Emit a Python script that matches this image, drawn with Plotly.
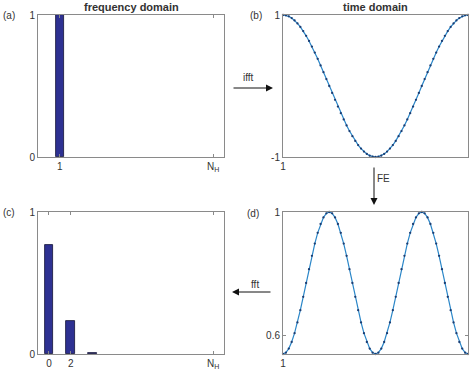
import plotly.graph_objects as go

W, H = 474, 375

# ---------------- data ----------------
freq_idx = list(range(0, 16))
a_vals = [None, 1, None, None, None, None, None, None, None, None, None, None, None, None, None, None]
c_vals = [0.768, None, 0.232, None, 0.004, None, None, None, None, None, None, None, None, None, None, None]

time_idx = list(range(1, 66))
b_vals = [1.0, 0.9952, 0.9808, 0.9569, 0.9239, 0.8819, 0.8315, 0.7730, 0.7071,
          0.6344, 0.5556, 0.4714, 0.3827, 0.2903, 0.1951, 0.0980, 0.0,
          -0.0980, -0.1951, -0.2903, -0.3827, -0.4714, -0.5556, -0.6344, -0.7071,
          -0.7730, -0.8315, -0.8819, -0.9239, -0.9569, -0.9808, -0.9952, -1.0,
          -0.9952, -0.9808, -0.9569, -0.9239, -0.8819, -0.8315, -0.7730, -0.7071,
          -0.6344, -0.5556, -0.4714, -0.3827, -0.2903, -0.1951, -0.0980, 0.0,
          0.0980, 0.1951, 0.2903, 0.3827, 0.4714, 0.5556, 0.6344, 0.7071,
          0.7730, 0.8315, 0.8819, 0.9239, 0.9569, 0.9808, 0.9952, 1.0]
d_vals = [0.540, 0.5444, 0.5575, 0.5788, 0.6074, 0.6422, 0.6820, 0.7251, 0.7700,
          0.8149, 0.8580, 0.8978, 0.9326, 0.9612, 0.9825, 0.9956, 1.0,
          0.9956, 0.9825, 0.9612, 0.9326, 0.8978, 0.8580, 0.8149, 0.7700,
          0.7251, 0.6820, 0.6422, 0.6074, 0.5788, 0.5575, 0.5444, 0.540,
          0.5444, 0.5575, 0.5788, 0.6074, 0.6422, 0.6820, 0.7251, 0.7700,
          0.8149, 0.8580, 0.8978, 0.9326, 0.9612, 0.9825, 0.9956, 1.0,
          0.9956, 0.9825, 0.9612, 0.9326, 0.8978, 0.8580, 0.8149, 0.7700,
          0.7251, 0.6820, 0.6422, 0.6074, 0.5788, 0.5575, 0.5444, 0.540]

a_ticks = [1, 15]
a_ticktext = ["1", "N<sub>H</sub>"]
c_ticks = [0, 2, 15]
c_ticktext = ["0", "2", "N<sub>H</sub>"]
t_ticks = [1, 65]
t_ticktext = ["1", "N<sub>T</sub>"]

# ---------------- helpers ----------------
def px(x):
    return x / W

def py(y):
    return (H - y) / H

FONT = "Liberation Sans, Arial, Helvetica, sans-serif"
AX_COL = "#8a8a8a"
TXT_COL = "#333333"
BAR_COL = "#2e3192"
LINE_COL = "#2a86c8"
DOT_COL = "#1c3d72"

def axis(domain, rng, tickvals, ticktext):
    return dict(domain=domain, range=rng, tickvals=tickvals, ticktext=ticktext,
                showline=True, linecolor=AX_COL, linewidth=1, mirror="ticks",
                ticks="inside", ticklen=3, tickcolor=AX_COL, showgrid=False,
                zeroline=False, tickfont=dict(family=FONT, size=10, color=TXT_COL),
                fixedrange=True, automargin=False)

xl = [px(38), px(224)]
xr = [px(283), px(468)]
yt = [py(157), py(15)]
yb = [py(354), py(212)]

fig = go.Figure()

fig.add_trace(go.Bar(x=freq_idx, y=a_vals, width=0.8, marker=dict(color=BAR_COL, line=dict(color="#111133", width=0.8)),
                     xaxis="x", yaxis="y", showlegend=False))
fig.add_trace(go.Scatter(x=time_idx, y=b_vals, mode="lines+markers",
                         line=dict(color=LINE_COL, width=1.2),
                         marker=dict(color=DOT_COL, size=2.3),
                         xaxis="x2", yaxis="y2", showlegend=False, cliponaxis=False))
fig.add_trace(go.Bar(x=freq_idx, y=c_vals, width=0.8, marker=dict(color=BAR_COL, line=dict(color="#111133", width=0.8)),
                     xaxis="x3", yaxis="y3", showlegend=False))
fig.add_trace(go.Scatter(x=time_idx, y=d_vals, mode="lines+markers",
                         line=dict(color=LINE_COL, width=1.2),
                         marker=dict(color=DOT_COL, size=2.3),
                         xaxis="x4", yaxis="y4", showlegend=False, cliponaxis=False))

layout = dict(
    width=W, height=H,
    margin=dict(l=0, r=0, t=0, b=0, pad=0, autoexpand=False),
    paper_bgcolor="white", plot_bgcolor="white",
    bargap=0,
    xaxis=axis(xl, [-1, 16], a_ticks, a_ticktext),
    yaxis=axis(yt, [0, 1], [0, 1], ["0", "1"]),
    xaxis2=axis(xr, [1, 65], t_ticks, t_ticktext),
    yaxis2=axis(yt, [-1, 1], [-1, 1], ["-1", "1"]),
    xaxis3=axis(xl, [-1, 16], c_ticks, c_ticktext),
    yaxis3=axis(yb, [0, 1], [0, 1], ["0", "1"]),
    xaxis4=axis(xr, [1, 65], t_ticks, t_ticktext),
    yaxis4=axis(yb, [0.54, 1], [0.6, 1], ["0.6", "1"]),
)
for i in ["", "2", "3", "4"]:
    layout["xaxis" + i]["anchor"] = "y" + i
    layout["yaxis" + i]["anchor"] = "x" + i
fig.update_layout(**layout)

ann = []
def text(x, y, s, size=10, bold=False):
    ann.append(dict(x=px(x), y=py(y), xref="paper", yref="paper", text=("<b>%s</b>" % s) if bold else s,
                    showarrow=False, font=dict(family=FONT, size=size, color=TXT_COL),
                    xanchor="center", yanchor="middle"))

text(131, 7, "frequency domain", size=11, bold=True)
text(375, 7, "time domain", size=11, bold=True)
text(9, 15, "(a)")
text(256, 15, "(b)")
text(9, 212, "(c)")
text(253, 213, "(d)")
text(248, 78, "ifft")
text(383, 178, "FE")
text(255, 284, "fft")

def arrow(x0, y0, x1, y1):
    ann.append(dict(x=px(x1), y=py(y1), ax=x0 - x1, ay=y0 - y1, xref="paper", yref="paper",
                    axref="pixel", ayref="pixel", text="", showarrow=True,
                    arrowhead=2, arrowsize=1.4, arrowwidth=1, arrowcolor="#111111"))

arrow(232, 88, 273, 88)
arrow(374, 166, 374, 205)
arrow(272, 292, 232, 292)

fig.update_layout(annotations=ann)
fig.write_html("out.html", config={"displayModeBar": False},
               post_script="document.body.style.margin='0px';")
